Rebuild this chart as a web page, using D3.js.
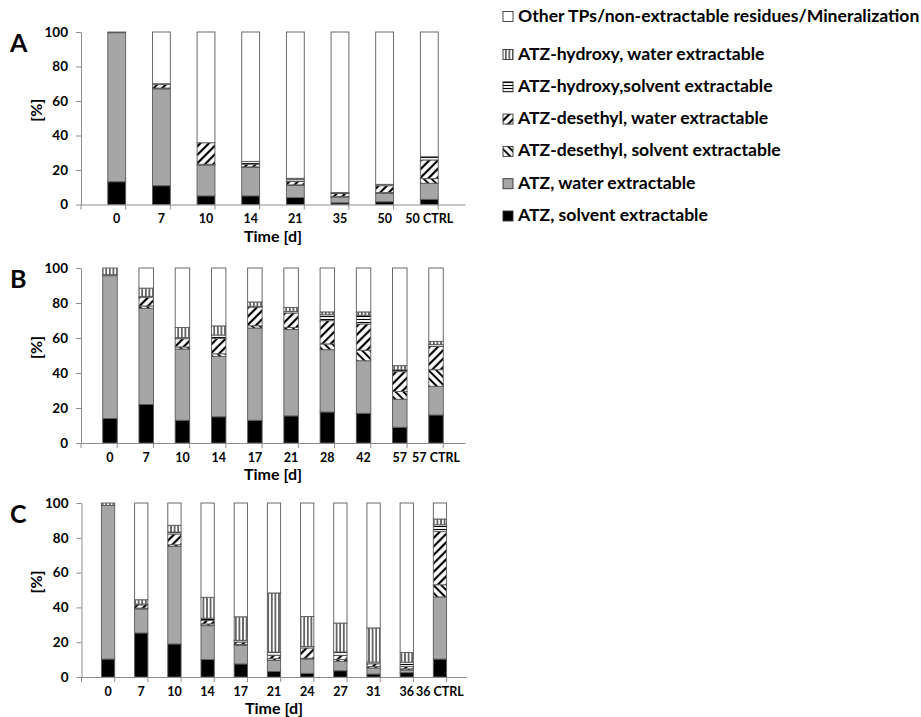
<!DOCTYPE html>
<html>
<head>
<meta charset="utf-8">
<script src="https://cdn.jsdelivr.net/npm/d3@7"></script>
<style>
  html, body { margin: 0; padding: 0; background: #fff; }
  svg { display: block; }
  text { font-family: Lato, "Open Sans", sans-serif; font-weight: bold; fill: #000; }
</style>
</head>
<body>
<svg id="chart" width="921" height="717"></svg>
<script>
// ---------- data ----------
const seriesKeys = ["atzS", "atzW", "desS", "desW", "hydS", "hydW", "other"];
const seriesNames = [
  "ATZ, solvent extractable",
  "ATZ, water extractable",
  "ATZ-desethyl, solvent extractable",
  "ATZ-desethyl, water extractable",
  "ATZ-hydroxy,solvent extractable",
  "ATZ-hydroxy, water extractable",
  "Other TPs/non-extractable residues/Mineralization"
];
const yTicks = [0, 20, 40, 60, 80, 100];

// Panel A
const catsA   = ["0", "7", "10", "14", "21", "35", "50", "50 CTRL"];
const atzS_A  = [13.2, 10.9, 5.0, 5.0, 4.0, 1.0, 1.6, 3.0];
const atzW_A  = [86.4, 56.1, 17.9, 16.5, 7.0, 3.3, 4.9, 9.3];
const desS_A  = [0.0, 0.5, 0.4, 0.3, 0.4, 0.3, 0.4, 2.7];
const desW_A  = [0.0, 2.2, 12.5, 1.6, 2.0, 1.8, 4.0, 10.8];
const hydS_A  = [0.4, 0.0, 0.0, 1.6, 1.0, 0.6, 0.8, 1.9];
const hydW_A  = [0.0, 0.3, 0.0, 0.0, 0.8, 0.0, 0.0, 0.0];
const other_A = [0.0, 30.0, 64.2, 75.0, 84.8, 93.0, 88.3, 72.3];

// Panel B
const catsB   = ["0", "7", "10", "14", "17", "21", "28", "42", "57", "57 CTRL"];
const atzS_B  = [14.0, 22.0, 13.0, 15.0, 13.0, 15.5, 17.7, 17.0, 9.0, 16.0];
const atzW_B  = [81.6, 55.0, 40.7, 34.5, 52.7, 49.3, 35.6, 30.0, 16.0, 16.4];
const desS_B  = [0.0, 1.3, 1.2, 1.5, 1.3, 1.2, 3.3, 6.0, 4.4, 9.5];
const desW_B  = [0.0, 5.0, 4.7, 8.8, 10.7, 8.3, 13.3, 15.0, 11.4, 13.3];
const hydS_B  = [0.6, 0.5, 0.6, 1.9, 0.4, 0.9, 3.4, 5.0, 1.0, 1.0];
const hydW_B  = [3.8, 4.7, 5.8, 5.2, 2.5, 2.3, 1.6, 1.9, 2.4, 1.9];
const other_B = [0.0, 11.5, 34.0, 33.1, 19.4, 22.5, 25.1, 25.1, 55.8, 41.9];

// Panel C
const catsC   = ["0", "7", "10", "14", "17", "21", "24", "27", "31", "36", "36 CTRL"];
const atzS_C  = [10.3, 25.3, 19.0, 10.0, 7.5, 3.2, 2.1, 3.6, 1.7, 2.5, 10.3];
const atzW_C  = [88.3, 13.8, 56.0, 19.5, 10.7, 6.3, 8.2, 5.4, 3.5, 1.5, 35.7];
const desS_C  = [0.0, 0.5, 1.0, 1.0, 0.5, 1.0, 0.5, 1.0, 0.8, 0.7, 7.0];
const desW_C  = [0.0, 1.9, 6.2, 2.0, 1.4, 2.0, 5.9, 2.4, 1.6, 1.3, 30.7];
const hydS_C  = [0.0, 0.4, 1.1, 1.3, 1.0, 1.8, 0.8, 2.0, 1.0, 2.5, 3.8];
const hydW_C  = [1.4, 2.5, 3.9, 12.0, 13.5, 34.0, 17.3, 16.6, 19.6, 5.6, 3.3];
const other_C = [0.0, 55.6, 12.8, 54.2, 65.4, 51.7, 65.2, 69.0, 71.8, 85.9, 9.2];

// ---------- build tables ----------
function table(cats, cols) {
  return cats.map((c, i) => {
    const row = { cat: c };
    seriesKeys.forEach((k, j) => row[k] = cols[j][i]);
    return row;
  });
}
const panels = [
  { letter: "A", top: 32, bottom: 204.5, x0: 81, x1: 465,
    rows: table(catsA, [atzS_A, atzW_A, desS_A, desW_A, hydS_A, hydW_A, other_A]) },
  { letter: "B", top: 268, bottom: 443, x0: 81, x1: 465,
    rows: table(catsB, [atzS_B, atzW_B, desS_B, desW_B, hydS_B, hydW_B, other_B]) },
  { letter: "C", top: 503, bottom: 677, x0: 81.5, x1: 466.5,
    rows: table(catsC, [atzS_C, atzW_C, desS_C, desW_C, hydS_C, hydW_C, other_C]) }
];

// ---------- svg & patterns ----------
const svg = d3.select("#chart");
const defs = svg.append("defs");

function linePattern(id, size, lineW, angle) {
  const p = defs.append("pattern")
    .attr("id", id)
    .attr("patternUnits", "userSpaceOnUse")
    .attr("width", size).attr("height", size)
    .attr("patternTransform", `rotate(${angle})`);
  p.append("rect").attr("width", size).attr("height", size).attr("fill", "#fff");
  p.append("rect").attr("x", (size - lineW) / 2).attr("y", 0)
    .attr("width", lineW).attr("height", size).attr("fill", "#000");
}
linePattern("pDesS", 5.5, 2.0, -45);  // back diagonal
linePattern("pDesW", 6, 2.2, 45);     // forward diagonal
linePattern("pHydS", 3, 1.1, 90);     // horizontal
linePattern("pHydW", 3.6, 1.1, 0);    // vertical

const fills = {
  atzS: "#000000",
  atzW: "#a6a6a6",
  desS: "url(#pDesS)",
  desW: "url(#pDesW)",
  hydS: "url(#pHydS)",
  hydW: "url(#pHydW)",
  other: "#ffffff"
};
const axisColor = "#8c8c8c";
const barStroke = "#5a5a5a";

const stack = d3.stack().keys(seriesKeys);

panels.forEach(p => {
  const g = svg.append("g");
  const x = d3.scaleBand().domain(p.rows.map(d => d.cat)).range([p.x0, p.x1]).padding(0.6);
  const y = d3.scaleLinear().domain([0, 100]).range([p.bottom, p.top]);

  // bars
  const layers = stack(p.rows);
  layers.forEach(layer => {
    g.append("g").selectAll("rect").data(layer).join("rect")
      .attr("x", d => x(d.data.cat))
      .attr("width", x.bandwidth())
      .attr("y", d => y(d[1]))
      .attr("height", d => Math.max(0, y(d[0]) - y(d[1])))
      .attr("fill", fills[layer.key])
      .attr("stroke", barStroke)
      .attr("stroke-width", d => (d[1] - d[0]) > 0.05 ? 0.9 : 0);
  });

  // y axis
  const ya = g.append("g").attr("transform", `translate(${p.x0},0)`)
    .call(d3.axisLeft(y).tickValues(yTicks).tickSize(5).tickSizeOuter(0).tickPadding(8));
  ya.select(".domain").attr("stroke", axisColor);
  ya.selectAll(".tick line").attr("stroke", axisColor);
  ya.selectAll(".tick text").attr("font-family", "Lato, sans-serif")
    .attr("font-weight", "bold").attr("font-size", 13.5).attr("fill", "#000");

  // x axis (labels at band centres, ticks at band boundaries)
  const xa = g.append("g").attr("transform", `translate(0,${p.bottom})`)
    .call(d3.axisBottom(x).tickSize(0).tickSizeOuter(0).tickPadding(10));
  xa.select(".domain").attr("stroke", axisColor);
  xa.selectAll(".tick text").attr("font-family", "Lato, sans-serif")
    .attr("font-weight", "bold").attr("font-size", 12.5).attr("fill", "#000");
  const bounds = d3.range(p.rows.length + 1).map(i => p.x0 + i * x.step());
  g.append("g").selectAll("line").data(bounds).join("line")
    .attr("x1", d => d).attr("x2", d => d)
    .attr("y1", p.bottom).attr("y2", p.bottom + 5)
    .attr("stroke", axisColor);

  // titles
  g.append("text")
    .attr("x", (p.x0 + p.x1) / 2).attr("y", p.bottom + 33)
    .attr("text-anchor", "middle").attr("dominant-baseline", "middle")
    .attr("font-size", 16).text("Time [d]");
  g.append("text")
    .attr("transform", `translate(38,${(p.top + p.bottom) / 2 - 8}) rotate(-90)`)
    .attr("text-anchor", "middle").attr("dominant-baseline", "middle")
    .attr("font-size", 16).text("[%]");
  g.append("text")
    .attr("x", 10).attr("y", p.top + 20)
    .attr("font-size", 25).text(p.letter);
});

// ---------- legend ----------
const legendOrder = seriesKeys.map((k, i) => ({ key: k, name: seriesNames[i] })).reverse();
const lg = svg.append("g");
legendOrder.forEach((d, i) => {
  const cy = i === 0 ? 17 : 55 + (i - 1) * 32.3;
  lg.append("rect")
    .attr("x", 503).attr("y", cy - 5.5).attr("width", 10).attr("height", 10)
    .attr("fill", fills[d.key]).attr("stroke", "#333").attr("stroke-width", 0.9);
  lg.append("text")
    .attr("x", 518).attr("y", cy)
    .attr("dominant-baseline", "middle")
    .attr("font-size", 17.6).text(d.name);
});
</script>
</body>
</html>
